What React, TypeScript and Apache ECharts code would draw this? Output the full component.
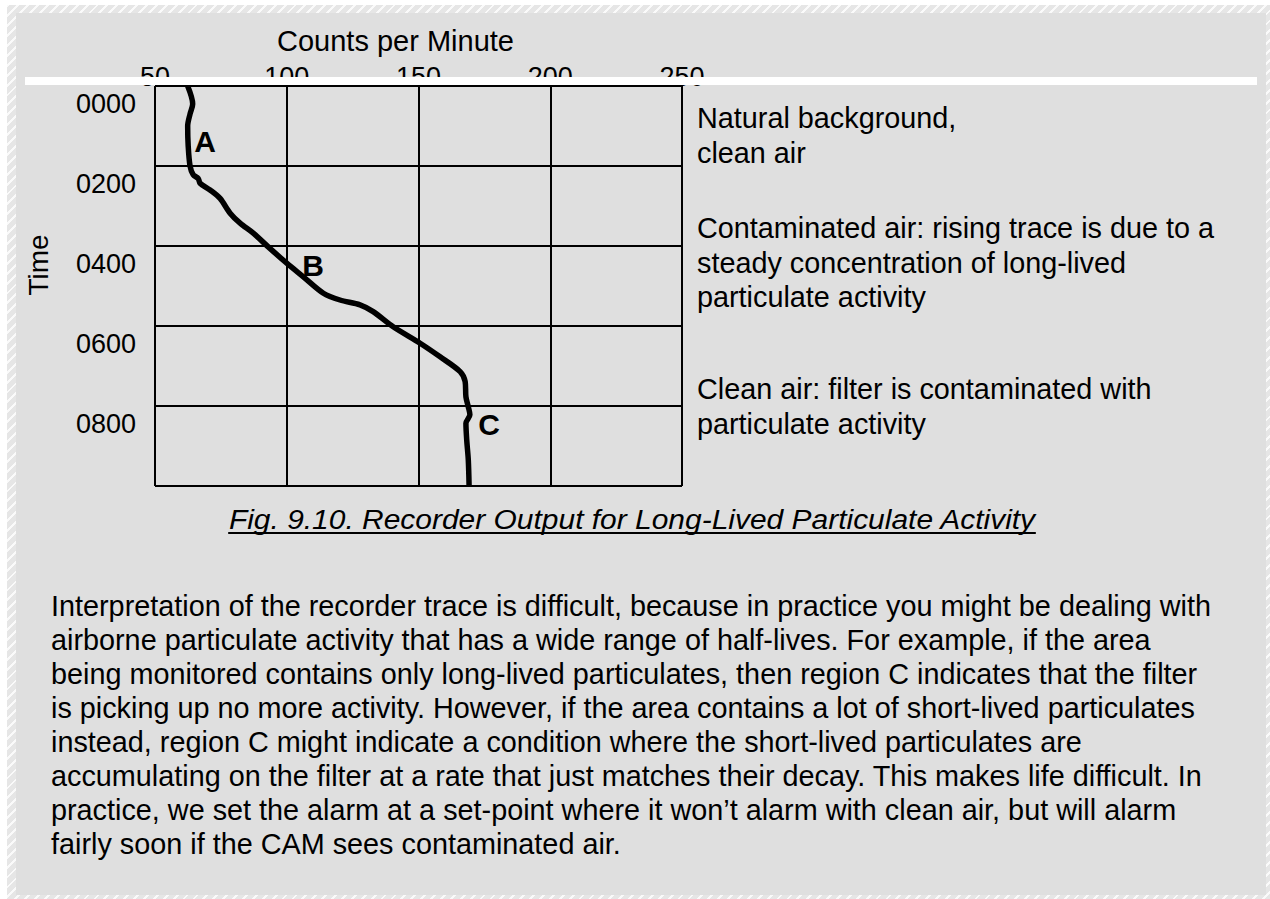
import React, { useEffect, useRef } from "react";
import * as echarts from "echarts";

// ---- data ----
const countTicks = [50, 100, 150, 200, 250];
const timeTicks = [0, 200, 400, 600, 800, 1000];
const traceCounts = [62.4, 64.3, 63.3, 62.4, 62.6, 63.3, 64.5, 66.4, 67.1, 70.9, 74.7, 78.5, 82.3, 87.3, 93.6, 100, 106.3, 113.9, 120.2, 127.8, 132.8, 140.4, 150.6, 158.2, 165.8, 167.7, 168.0, 168.9, 169.5, 168.0, 168.3, 168.9, 169.2];
const traceTimes = [0, 45, 70, 100, 150, 200, 222, 231, 243, 260, 281, 318, 343, 368, 406, 443, 477, 518, 535, 547, 564, 602, 643, 677, 714, 739, 777, 802, 822, 843, 885, 935, 1000];
const regionNames = ["A", "B", "C"];
const regionCounts = [69, 110, 176.8];
const regionTimes = [137.5, 447.5, 845];
const xName = "Counts per Minute";
const yName = "Time";
const annotations = [
  ["Natural background,", "clean air"],
  ["Contaminated air: rising trace is due to a", "steady concentration of long-lived", "particulate activity"],
  ["Clean air: filter is contaminated with", "particulate activity"],
];
const caption = "Fig. 9.10. Recorder Output for Long-Lived Particulate Activity";
const bodyLines = [
  "Interpretation of the recorder trace is difficult, because in practice you might be dealing with",
  "airborne particulate activity that has a wide range of half-lives. For example, if the area",
  "being monitored contains only long-lived particulates, then region C indicates that the filter",
  "is picking up no more activity. However, if the area contains a lot of short-lived particulates",
  "instead, region C might indicate a condition where the short-lived particulates are",
  "accumulating on the filter at a rate that just matches their decay. This makes life difficult. In",
  "practice, we set the alarm at a set-point where it won\u2019t alarm with clean air, but will alarm",
  "fairly soon if the CAM sees contaminated air.",
];

const FONT = '"Liberation Sans", Arial, sans-serif';
const annotationTop = [118, 228, 389];
const LINE_H = 34.5;
const TEXT_SIZE = 28.8;

function measure(text: string, font: string): number {
  const c = document.createElement("canvas");
  const ctx = c.getContext("2d");
  if (!ctx) return text.length * 13;
  ctx.font = font;
  return ctx.measureText(text).width;
}

export default function App() {
  const ref = useRef<HTMLDivElement>(null);
  useEffect(() => {
    if (!ref.current) return;
    const chart = echarts.init(ref.current, undefined, { renderer: "svg" });
    const capFont = `italic 28px ${FONT}`;
    const capScale = 1.07;
    const capW = measure(caption, capFont) * capScale;
    const capX = 632;
    const graphics: any[] = [
      { type: "rect", z: 100, shape: { x: 25, y: 77, width: 1232, height: 8 }, style: { fill: "#ffffff" } },
    ];
    annotations.forEach((block, bi) => {
      block.forEach((line, li) => {
        graphics.push({
          type: "text",
          x: 697,
          y: annotationTop[bi] + li * LINE_H,
          style: { text: line, font: `${TEXT_SIZE}px ${FONT}`, fill: "#000", textAlign: "left", textVerticalAlign: "middle" },
        });
      });
    });
    graphics.push({
      type: "text",
      x: capX,
      y: 519.5,
      scaleX: capScale,
      style: { text: caption, font: capFont, fill: "#000", textAlign: "center", textVerticalAlign: "middle" },
    });
    graphics.push({
      type: "line",
      shape: { x1: capX - capW / 2, y1: 533, x2: capX + capW / 2, y2: 533 },
      style: { stroke: "#000", lineWidth: 2 },
    });
    bodyLines.forEach((line, i) => {
      graphics.push({
        type: "text",
        x: 51,
        y: 605.5 + i * 34,
        style: { text: line, font: `${TEXT_SIZE}px ${FONT}`, fill: "#000", textAlign: "left", textVerticalAlign: "middle" },
      });
    });

    chart.setOption({
      animation: false,
      backgroundColor: "transparent",
      textStyle: { fontFamily: FONT },
      grid: { left: 155, top: 86, width: 527, height: 400, containLabel: false },
      xAxis: {
        type: "value",
        position: "top",
        min: countTicks[0],
        max: countTicks[countTicks.length - 1],
        interval: countTicks[1] - countTicks[0],
        name: xName,
        nameLocation: "middle",
        nameGap: 31,
        nameTextStyle: { fontSize: 29, color: "#000", fontFamily: FONT, padding: [0, 46, 0, 0] },
        axisLine: { show: false },
        axisTick: { show: false },
        axisLabel: { fontSize: 27, color: "#000", fontFamily: FONT, margin: -4 },
        splitLine: { show: true, lineStyle: { color: "#000", width: 2 } },
      },
      yAxis: {
        type: "value",
        inverse: true,
        min: timeTicks[0],
        max: timeTicks[timeTicks.length - 1],
        interval: timeTicks[1] - timeTicks[0],
        name: yName,
        nameLocation: "middle",
        nameRotate: 90,
        nameGap: 103,
        nameTextStyle: { fontSize: 28, color: "#000", fontFamily: FONT, padding: [0, 0, 0, 42] },
        axisLine: { show: false },
        axisTick: { show: false },
        axisLabel: {
          fontSize: 27,
          color: "#000",
          fontFamily: FONT,
          margin: 19,
          verticalAlign: "top",
          lineHeight: 35,
          formatter: (v: number) => (v >= timeTicks[timeTicks.length - 1] ? "" : String(v).padStart(4, "0")),
        },
        splitLine: { show: true, lineStyle: { color: "#000", width: 2 } },
      },
      series: [
        {
          type: "line",
          data: traceCounts.map((c, i) => [c, traceTimes[i]]),
          showSymbol: false,
          smooth: 0.3,
          lineStyle: { color: "#000", width: 5.5 },
          z: 3,
        },
        {
          type: "scatter",
          data: regionNames.map((n, i) => ({ name: n, value: [regionCounts[i], regionTimes[i]] })),
          symbolSize: 1,
          itemStyle: { color: "rgba(0,0,0,0)", opacity: 1 },
          label: {
            show: true,
            position: "inside",
            formatter: "{b}",
            fontSize: 30,
            fontWeight: "bold",
            color: "#000",
            opacity: 1,
            fontFamily: FONT,
          },
          z: 4,
        },
      ],
      graphic: graphics,
    });
    return () => chart.dispose();
  }, []);

  return (
    <div style={{ position: "fixed", left: 0, top: 0, width: 1270, height: 899, background: "#ffffff", overflow: "hidden" }}>
      <div
        style={{
          position: "absolute",
          left: 7,
          top: 5,
          width: 1263,
          height: 894,
          backgroundColor: "#e9e9e9",
          backgroundImage: "repeating-linear-gradient(135deg, #fafafa 0px, #fafafa 2px, #e6e6e6 2px, #e6e6e6 7px)",
        }}
      />
      <div style={{ position: "absolute", left: 16, top: 13, width: 1250, height: 882, background: "#dfdfdf" }} />
      <div ref={ref} style={{ position: "absolute", left: 0, top: 0, width: 1270, height: 899 }} />
    </div>
  );
}
